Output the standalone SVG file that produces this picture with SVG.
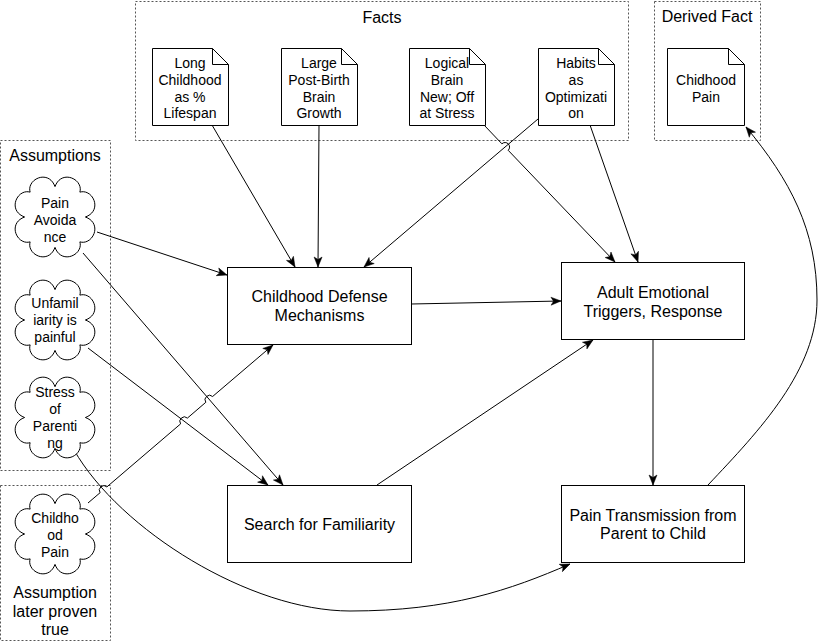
<svg xmlns="http://www.w3.org/2000/svg" xmlns:xlink="http://www.w3.org/1999/xlink" width="818" height="642" viewBox="0 0 818 642">
<style>
text{font-family:"Liberation Sans",Arial,sans-serif;fill:#000;text-anchor:middle}
.t14{font-size:14px}
.t16{font-size:16px}
.box{fill:#fff;stroke:#000;stroke-width:1}
.grp{fill:none;stroke:#555;stroke-width:1;stroke-dasharray:2 2}
.doc{fill:#fff;stroke:#000;stroke-width:1}
.edge{fill:none;stroke:#000;stroke-width:1}
.arr{marker-end:url(#arrow)}
</style>
<defs>
<marker id="arrow" markerUnits="userSpaceOnUse" markerWidth="11" markerHeight="9" refX="10" refY="4" orient="auto" overflow="visible">
<path d="M0,0 L10,4 L0,8 L2.5,4 Z" fill="#000" stroke="#000" stroke-width="0.5"/>
</marker>
<path id="cloud" vector-effect="non-scaling-stroke" fill="#fff" stroke="#000" stroke-width="1" d="M88,50 C110,58 97.5,85.7 81.1,81.1 C85.7,97.5 58,110 50,88 C42,110 14.3,97.5 18.9,81.1 C2.5,85.7 -10,58 12,50 C-10,42 2.5,14.3 18.9,18.9 C14.3,2.5 42,-10 50,12 C58,-10 85.7,2.5 81.1,18.9 C97.5,14.3 110,42 88,50 Z"/>
</defs>
<rect x="0" y="0" width="818" height="642" fill="#fff"/>

<!-- containers -->
<g id="facts-group">
<rect class="grp" x="135.5" y="1.5" width="493" height="139"/>
<text class="t16" x="382" y="23">Facts</text>
</g>
<g id="derived-group">
<rect class="grp" x="654.5" y="1.5" width="106" height="139"/>
<text class="t16" x="707" y="22">Derived Fact</text>
</g>
<g id="assumptions-group">
<rect class="grp" x="0.5" y="140.5" width="110" height="330"/>
<text class="t16" x="55" y="161">Assumptions</text>
</g>
<g id="proven-group">
<rect class="grp" x="0.5" y="485.5" width="110" height="155"/>
<text class="t16" x="55" y="598">Assumption</text>
<text class="t16" x="55" y="617">later proven</text>
<text class="t16" x="55" y="635">true</text>
</g>

<!-- connectors -->
<g id="connectors">
<path class="edge arr" d="M212,125 L295,267"/>
<path class="edge arr" d="M319,125 L318,267"/>
<path class="edge arr" d="M484,125 L501.9,143.8 A4.5,4.5 0 0 1 508.2,150.3 L615,262"/>
<path class="edge arr" d="M590,125 L638,262"/>
<path class="edge arr" d="M538,119 L364,267"/>
<path class="edge arr" d="M97,232 L227,275"/>
<path class="edge arr" d="M83,253 L283,485"/>
<path class="edge arr" d="M88,348 L268,485"/>
<path class="edge arr" d="M74,450 C120,530 250,611 350,611 C450,611 510,590 570,564"/>
<path class="edge arr" d="M88,503 L100.1,492.7 A4.5,4.5 0 0 1 106.9,486.9 L180.6,423.9 A4.5,4.5 0 0 1 187.4,418.1 L205.8,402.3 A4.5,4.5 0 0 1 212.6,396.5 L273,345"/>
<path class="edge arr" d="M411,304 L561,301"/>
<path class="edge arr" d="M377,485 L593,340"/>
<path class="edge arr" d="M653,339 L653,485"/>
<path class="edge arr" d="M708,485 C760,430 817,370 817,300 C817,230 790,180 746,127"/>
</g>

<!-- fact documents -->
<g id="fact-long-childhood">
<path class="doc" d="M152.5,48.5 H212.5 L228.5,64.5 V125.5 H152.5 Z M212.5,48.5 V64.5 H228.5"/>
<text class="t14" x="190" y="68">Long</text>
<text class="t14" x="190" y="85">Childhood</text>
<text class="t14" x="190" y="102">as %</text>
<text class="t14" x="190" y="118">Lifespan</text>
</g>
<g id="fact-brain-growth">
<path class="doc" d="M281.5,48.5 H341.5 L357.5,64.5 V125.5 H281.5 Z M341.5,48.5 V64.5 H357.5"/>
<text class="t14" x="319" y="68">Large</text>
<text class="t14" x="319" y="85">Post-Birth</text>
<text class="t14" x="319" y="102">Brain</text>
<text class="t14" x="319" y="118">Growth</text>
</g>
<g id="fact-logical-brain">
<path class="doc" d="M409.5,48.5 H469.5 L485.5,64.5 V125.5 H409.5 Z M469.5,48.5 V64.5 H485.5"/>
<text class="t14" x="447" y="68">Logical</text>
<text class="t14" x="447" y="85">Brain</text>
<text class="t14" x="447" y="102">New; Off</text>
<text class="t14" x="447" y="118">at Stress</text>
</g>
<g id="fact-habits">
<path class="doc" d="M538.5,48.5 H598.5 L614.5,64.5 V125.5 H538.5 Z M598.5,48.5 V64.5 H614.5"/>
<text class="t14" x="576" y="68">Habits</text>
<text class="t14" x="576" y="85">as</text>
<text class="t14" x="576" y="102">Optimizati</text>
<text class="t14" x="576" y="118">on</text>
</g>
<g id="derived-childhood-pain">
<path class="doc" d="M667.5,48.5 H728.5 L744.5,64.5 V125.5 H667.5 Z M728.5,48.5 V64.5 H744.5"/>
<text class="t14" x="706" y="85">Chidhood</text>
<text class="t14" x="706" y="102">Pain</text>
</g>

<!-- assumption clouds -->
<g id="cloud-pain-avoidance">
<use xlink:href="#cloud" href="#cloud" transform="translate(15,177) scale(0.8,0.8)"/>
<text class="t14" x="55" y="208">Pain</text>
<text class="t14" x="55" y="225">Avoida</text>
<text class="t14" x="55" y="242">nce</text>
</g>
<g id="cloud-unfamiliarity">
<use xlink:href="#cloud" href="#cloud" transform="translate(15,280) scale(0.8,0.8)"/>
<text class="t14" x="55" y="308">Unfamil</text>
<text class="t14" x="55" y="325">iarity is</text>
<text class="t14" x="55" y="342">painful</text>
</g>
<g id="cloud-stress">
<use xlink:href="#cloud" href="#cloud" transform="translate(15,377) scale(0.8,0.81)"/>
<text class="t14" x="55" y="397">Stress</text>
<text class="t14" x="55" y="414">of</text>
<text class="t14" x="55" y="431">Parenti</text>
<text class="t14" x="55" y="448">ng</text>
</g>
<g id="cloud-childhood-pain">
<use xlink:href="#cloud" href="#cloud" transform="translate(15,494) scale(0.8,0.8)"/>
<text class="t14" x="55" y="523">Childho</text>
<text class="t14" x="55" y="540">od</text>
<text class="t14" x="55" y="557">Pain</text>
</g>

<!-- process boxes -->
<g id="childhood-defense">
<rect class="box" x="227.5" y="267.5" width="184" height="77"/>
<text class="t16" x="319.5" y="302">Childhood Defense</text>
<text class="t16" x="319.5" y="321">Mechanisms</text>
</g>
<g id="adult-triggers">
<rect class="box" x="561.5" y="262.5" width="183" height="77"/>
<text class="t16" x="653" y="298">Adult Emotional</text>
<text class="t16" x="653" y="316.5">Triggers, Response</text>
</g>
<g id="search-familiarity">
<rect class="box" x="227.5" y="485.5" width="184" height="77"/>
<text class="t16" x="319.5" y="529.5">Search for Familiarity</text>
</g>
<g id="pain-transmission">
<rect class="box" x="561.5" y="485.5" width="183" height="77"/>
<text class="t16" x="653" y="521">Pain Transmission from</text>
<text class="t16" x="653" y="539">Parent to Child</text>
</g>
</svg>
